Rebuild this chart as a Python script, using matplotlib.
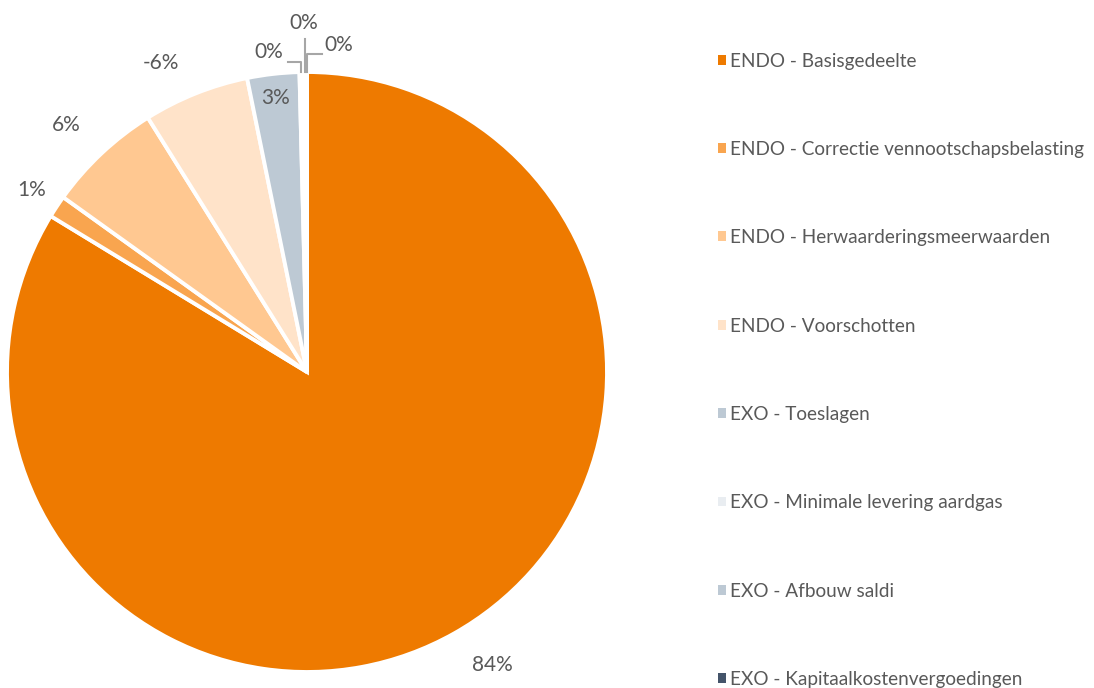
import matplotlib as mpl
mpl.use('Agg')
import matplotlib.pyplot as plt
import numpy as np

# share of each component (percent); pie uses absolute size like Excel
categories = ['ENDO - Basisgedeelte', 'ENDO - Correctie vennootschapsbelasting',
              'ENDO - Herwaarderingsmeerwaarden', 'ENDO - Voorschotten',
              'EXO - Toeslagen', 'EXO - Minimale levering aardgas',
              'EXO - Afbouw saldi', 'EXO - Kapitaalkostenvergoedingen']
values = [83.7, 1.2, 6.2, -5.7, 2.8, 0.2, 0.15, 0.05]
colors = ['#EE7A00', '#F9A54F', '#FFC891', '#FFE3C9',
          '#BDC9D4', '#E9EDF1', '#BDC9D4', '#44546A']

plt.rcParams['font.family'] = ['Lato', 'DejaVu Sans']
txt_col = '#595959'

fig = plt.figure(figsize=(10.94, 6.88), dpi=100)
ax = fig.add_axes([0, 0, 1, 1])
ax.set_xlim(0, 1094)
ax.set_ylim(0, 688)
ax.set_aspect('equal')
ax.axis('off')

sizes = np.abs(values)
total = sizes.sum()
cx, cy, R = 307, 316, 300
wedges, _ = ax.pie(sizes, colors=colors, startangle=90, counterclock=False,
                   center=(cx, cy), radius=R,
                   wedgeprops=dict(edgecolor='white', linewidth=2.8))
ax.set_xlim(0, 1094)
ax.set_ylim(0, 688)

labels = ['%.0f%%' % (v / total * 100) for v in values]
labels = [l.replace('-0%', '0%') for l in labels]

# radial position (in radii) and small angle nudge of the labels
dist = [1.155, 1.10, 1.15, 1.14, 0.92]
nudge = [3, 0, 1, 3.5, 0]
for i, w in enumerate(wedges[:5]):
    mid = np.deg2rad((w.theta1 + w.theta2) / 2 + nudge[i])
    x = cx + R * dist[i] * np.cos(mid)
    y = cy + R * dist[i] * np.sin(mid)
    ax.text(x, y, labels[i], ha='center', va='center', fontsize=15, color=txt_col)

# tiny slices: labels pulled out with leader lines
offsets = [(-33, 20), (-1, 49), (32, 27)]
elbow = [(0, 10), (0, 33), (0, 18)]
for k, i in enumerate(range(5, 8)):
    w = wedges[i]
    mid = np.deg2rad((w.theta1 + w.theta2) / 2)
    px = cx + R * np.cos(mid)
    py = cy + R * np.sin(mid)
    tx, ty = px + offsets[k][0], py + offsets[k][1]
    ex, ey = px + elbow[k][0], py + elbow[k][1]
    if k == 0:
        ax.plot([px, ex, tx + 20], [py, ey, ey], color='#A6A6A6', lw=1.5)
    elif k == 1:
        ax.plot([px, ex], [py, ey], color='#A6A6A6', lw=1.5)
    else:
        ax.plot([px, ex, tx - 17], [py, ey, ey], color='#A6A6A6', lw=1.5)
    ax.text(tx, ty, labels[i], ha='center', va='center', fontsize=15, color=txt_col)

leg = ax.legend(wedges, categories, loc='upper left',
                bbox_to_anchor=(708 / 1094, 1 - 43 / 688), frameon=False,
                fontsize=13.7, handlelength=0.43, handleheight=0.43,
                handletextpad=0.25, labelspacing=3.75, borderpad=0)
for t in leg.get_texts():
    t.set_color(txt_col)
for h in leg.legend_handles:
    h.set_edgecolor('none')

fig.savefig('out.png', dpi=100)
